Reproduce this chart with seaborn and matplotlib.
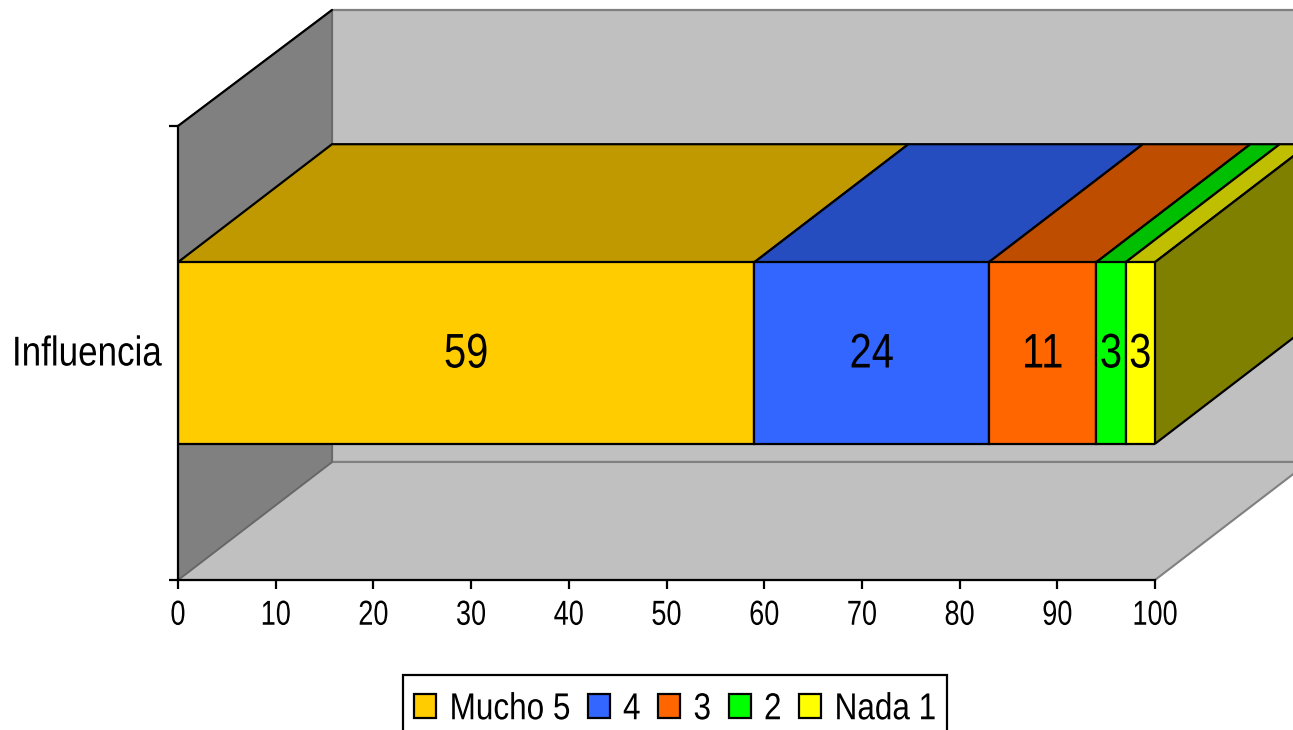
import matplotlib
matplotlib.use("Agg")
import matplotlib.pyplot as plt
import seaborn as sns
from matplotlib.patches import Polygon
from matplotlib.patheffects import AbstractPathEffect
from matplotlib.offsetbox import TextArea
from matplotlib.ticker import FixedLocator
from matplotlib.transforms import Affine2D, Bbox

CATEGORY = "Influencia"
LEVELS = ["Mucho 5", "4", "3", "2", "Nada 1"]
VALUES = [59, 24, 11, 3, 3]
FRONT_COLORS = ["#FFCC00", "#3366FF", "#FF6600", "#00FF00", "#FFFF00"]
TOP_COLORS = ["#C09900", "#264DBF", "#BF4D00", "#00BF00", "#BFBF00"]
SIDE_COLOR = "#808000"
XTICKS = list(range(0, 101, 10))

W, H = 1293, 730
sns.set_theme(style="white")
plt.rcParams["font.family"] = ["Liberation Sans", "DejaVu Sans"]


class Squeeze(AbstractPathEffect):
    """Draw text narrower than the font (the reference text is horizontally condensed)."""

    def __init__(self, sx, anchor="center", dy=0):
        super().__init__()
        self.sx = sx
        self.anchor = anchor
        self.dy = dy

    def draw_path(self, renderer, gc, tpath, affine, rgbFace=None):
        ext = tpath.get_extents()
        cx = ext.x0 if self.anchor == "left" else (ext.x0 + ext.x1) / 2
        t = (Affine2D().translate(-cx, 0).scale(self.sx, 1).translate(cx, 0)
             + affine + Affine2D().translate(0, self.dy))
        renderer.draw_path(gc, tpath, t, rgbFace)


fig = plt.figure(figsize=(W / 100, H / 100), dpi=100, facecolor="white")
ax = fig.add_axes([178 / W, 1 - 580 / H, (1155 - 178) / W, (580 - 126) / H])
ax.patch.set_alpha(0)

LW = 1.6
lefts = [sum(VALUES[:i]) for i in range(len(VALUES))]
containers = []
for val, left, name, col in zip(VALUES, lefts, LEVELS, FRONT_COLORS):
    sns.barplot(x=[val], y=[CATEGORY], left=left, orient="h", width=0.4, color=col,
                saturation=1, edgecolor="black", linewidth=LW, label=name,
                legend=False, ax=ax, zorder=5)
    containers.append(ax.containers[-1])

ax.set_xlim(0, 100)
ax.set_ylim(0.5, -0.5)

DX = 154 / 9.77
DY = 118 / 454
DY_TOP = 116 / 454
GRAY_EDGE = "#808080"


def poly(points, face, edge, lw, z):
    ax.add_patch(Polygon(points, closed=True, facecolor=face, edgecolor=edge,
                         linewidth=lw, clip_on=False, zorder=z, joinstyle="miter"))


# walls and floor
far = 100 + DX
poly([(DX, -0.5 - DY_TOP), (far, -0.5 - DY_TOP), (far, 0.5 - DY), (DX, 0.5 - DY)], "#C0C0C0", GRAY_EDGE, 1.6, 1)
poly([(0, 0.5), (DX, 0.5 - DY), (far, 0.5 - DY), (100, 0.5)], "#C0C0C0", GRAY_EDGE, 1.5, 1.5)
poly([(0, -0.5), (DX, -0.5 - DY_TOP), (DX, 0.5 - DY), (0, 0.5)], "#808080", "#666666", 1.2, 2)
ax.plot([0, DX], [-0.5, -0.5 - DY_TOP], color="black", lw=LW, clip_on=False, zorder=2.5)

# bar depth faces
top, bot = -0.2, 0.2
for val, left, col in zip(VALUES, lefts, TOP_COLORS):
    poly([(left, top), (left + val, top), (left + val + DX, top - DY), (left + DX, top - DY)],
         col, "black", LW, 3)
end = lefts[-1] + VALUES[-1]
poly([(end, top), (end + DX, top - DY), (end + DX, bot - DY), (end, bot)], SIDE_COLOR, "black", LW, 3.5)

# labels
for cont, val in zip(containers, VALUES):
    for lab in ax.bar_label(cont, labels=[str(val)], label_type="center", fontsize=35,
                            color="black", zorder=6):
        lab.set_path_effects([Squeeze(0.82, dy=-2)])

for side in ("top", "right"):
    ax.spines[side].set_visible(False)
for side in ("left", "bottom"):
    ax.spines[side].set_color("black")
    ax.spines[side].set_linewidth(LW)
    ax.spines[side].set_zorder(7)

ax.set_xticks(XTICKS, [str(t) for t in XTICKS])
ax.set_yticks([0], [CATEGORY])
ax.yaxis.set_minor_locator(FixedLocator([-0.5, 0.5]))
ax.tick_params(axis="x", length=6.5, width=LW, color="black", labelsize=25, pad=7, labelcolor="black", bottom=True)
ax.tick_params(axis="y", which="major", length=0, labelsize=30, pad=120, labelcolor="black")
ax.tick_params(axis="y", which="minor", length=6.5, width=LW, color="black", left=True)
ax.set_xlabel("")
ax.set_ylabel("")
for t in ax.get_xticklabels():
    t.set_path_effects([Squeeze(0.78)])
for t in ax.get_yticklabels():
    t.set_ha("left")
    t.set_path_effects([Squeeze(0.84, anchor="left", dy=3)])

LEGEND_SX = 0.84
handles = [c[0] for c in containers]
leg = fig.legend(handles, LEVELS, ncol=5, loc="upper left",
                 bbox_to_anchor=(403 / W, 1 - 675 / H), bbox_transform=fig.transFigure,
                 borderaxespad=0, fontsize=27, frameon=True, fancybox=False,
                 edgecolor="black", facecolor="white", framealpha=1,
                 handlelength=0.58, handleheight=0.58, handletextpad=0.35,
                 columnspacing=0.48, borderpad=0.3, labelcolor="black")
leg.get_frame().set_linewidth(LW)
for t in leg.get_texts():
    t.set_path_effects([Squeeze(LEGEND_SX, anchor="left")])


def narrow_area(area):
    """Make the legend lay each label out at its drawn (condensed) width."""
    base = area.get_bbox

    def get_bbox(renderer):
        b = base(renderer)
        return Bbox.from_extents(b.x0, b.y0, b.x0 + b.width * LEGEND_SX, b.y1 + 5)

    area.get_bbox = get_bbox


for area in leg.findobj(TextArea):
    narrow_area(area)

fig.savefig("out.png", dpi=100)
